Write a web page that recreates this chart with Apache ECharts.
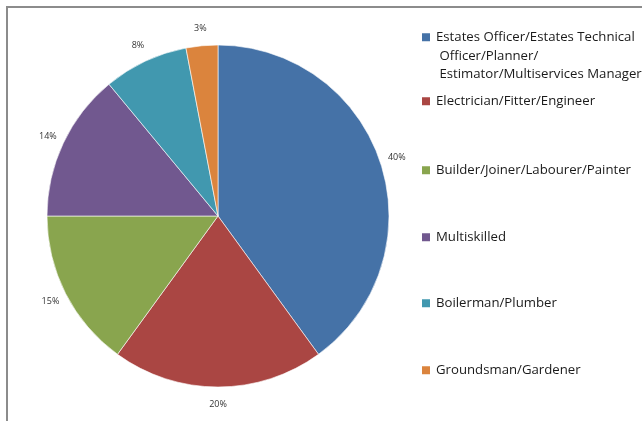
<!DOCTYPE html>
<html>
<head>
<meta charset="utf-8">
<script src="https://cdn.jsdelivr.net/npm/echarts@6/dist/echarts.min.js"></script>
<style>
  html, body { margin: 0; padding: 0; background: #fff; }
  #chart { width: 642px; height: 421px; }
</style>
</head>
<body>
<div id="chart"></div>
<script>
// Staff roles and their share of the workforce (%)
const roles = [
  'Estates Officer/Estates Technical Officer/Planner/ Estimator/Multiservices Manager',
  'Electrician/Fitter/Engineer',
  'Builder/Joiner/Labourer/Painter',
  'Multiskilled',
  'Boilerman/Plumber',
  'Groundsman/Gardener'
];
const shares = [40, 20, 15, 14, 8, 3];
const colors = ['#4572A7', '#AA4643', '#89A54E', '#71588F', '#4198AF', '#DB843D'];
// Legend text as wrapped on screen; the leading blank lines keep the
// first line level with the colour swatch
const legendText = [
  '\n\nEstates Officer/Estates Technical\n Officer/Planner/\n Estimator/Multiservices Manager',
  'Electrician/Fitter/Engineer',
  'Builder/Joiner/Labourer/Painter',
  'Multiskilled',
  'Boilerman/Plumber',
  'Groundsman/Gardener'
];
const legendTops = [-9, 92, 161, 228, 294, 361];

const FONT = '"Open Sans", "Liberation Sans", sans-serif';
const pieData = roles.map((r, i) => ({ name: r, value: shares[i], itemStyle: { color: colors[i] } }));

const legends = roles.map((r, i) => ({
  left: 420,
  top: legendTops[i],
  orient: 'vertical',
  padding: 0,
  itemWidth: 10,
  itemHeight: 10,
  itemGap: 0,
  icon: 'rect',
  selectedMode: false,
  data: [r],
  formatter: () => legendText[i],
  textStyle: { fontFamily: FONT, fontSize: 13.2, color: '#1a1a1a', lineHeight: 18.5 }
}));

const chart = echarts.init(document.getElementById('chart'));
chart.setOption({
  animation: false,
  color: colors,
  graphic: [{
    type: 'rect',
    shape: { x: 7, y: 7, width: 700, height: 500 },
    style: { fill: 'none', stroke: '#8c8c8c', lineWidth: 2 },
    silent: true,
    z: 0
  }],
  legend: legends,
  series: [
    {
      type: 'pie',
      center: [218, 216],
      radius: 171,
      startAngle: 90,
      clockwise: true,
      label: { show: false },
      labelLine: { show: false },
      itemStyle: { borderColor: '#ffffff', borderWidth: 0.6 },
      data: pieData,
      silent: true
    },
    {
      // transparent ring used only to place the percentage labels
      type: 'pie',
      center: [218, 216],
      radius: [179, 191],
      startAngle: 90,
      clockwise: true,
      silent: true,
      legendHoverLink: false,
      itemStyle: { color: 'rgba(0,0,0,0)', borderWidth: 0 },
      label: {
        show: true,
        position: 'inside',
        rotate: 0,
        formatter: p => p.value + '%',
        fontFamily: FONT,
        fontSize: 9,
        color: '#333333'
      },
      labelLine: { show: false },
      data: roles.map((r, i) => ({ name: r, value: shares[i] }))
    }
  ]
});
</script>
</body>
</html>
